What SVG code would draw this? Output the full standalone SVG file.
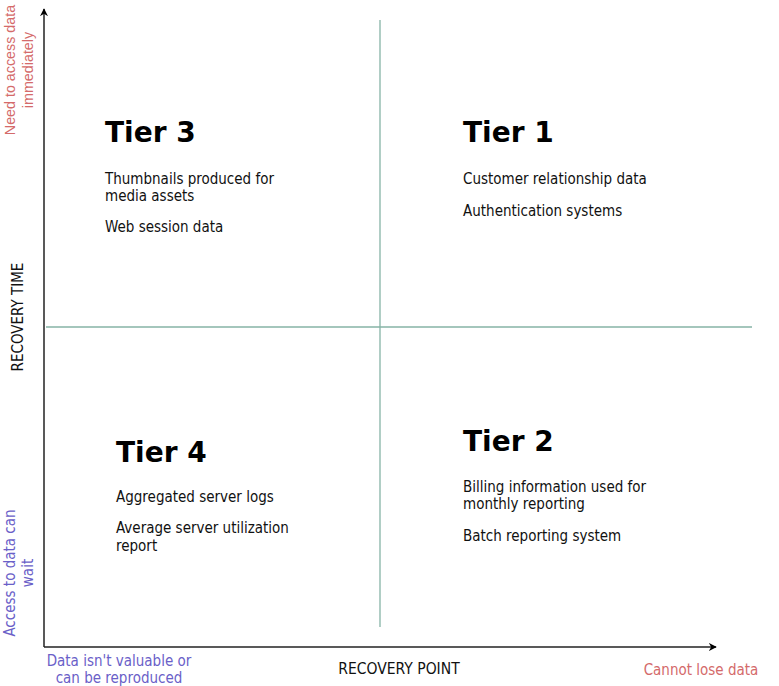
<svg xmlns="http://www.w3.org/2000/svg" width="779" height="686" viewBox="0 0 779 686">
<style>
.t{font-family:"DejaVu Sans Condensed","DejaVu Sans",sans-serif;font-size:15px;fill:#111}
.h{font-family:"DejaVu Sans","Liberation Sans",sans-serif;font-size:28px;font-weight:bold;fill:#000}
.ax{font-family:"DejaVu Sans Condensed","DejaVu Sans",sans-serif;font-size:15.5px;fill:#111}
.ay{font-family:"DejaVu Sans Condensed","DejaVu Sans",sans-serif;font-size:15px;fill:#111}
.red{font-family:"Liberation Sans",Arial,sans-serif;font-size:14.3px;fill:#d46a6a}
.redt{font-family:"DejaVu Sans Condensed","DejaVu Sans",sans-serif;font-size:15px;fill:#d46a6a}
.blue{font-family:"DejaVu Sans Condensed","DejaVu Sans",sans-serif;font-size:15px;fill:#6a60c8}
.grid{stroke:#86b3a6;stroke-width:1.3;fill:none}
.axis{stroke:#222;stroke-width:1.5;fill:none}
</style>
<defs>
<marker id="arr" viewBox="0 0 10 10" refX="9" refY="5" markerWidth="8" markerHeight="8" markerUnits="userSpaceOnUse" orient="auto">
<path d="M0,0 L10,5 L0,10 L3,5 Z" fill="#000"/>
</marker>
</defs>
<rect width="779" height="686" fill="#fff"/>
<g id="connectors">
<line class="grid" x1="380" y1="20" x2="380" y2="627"/>
<line class="grid" x1="46" y1="327" x2="752" y2="327"/>
<line class="axis" x1="44" y1="647" x2="44" y2="9" marker-end="url(#arr)"/>
<line class="axis" x1="44" y1="647" x2="716" y2="647" marker-end="url(#arr)"/>
</g>
<g id="tier3">
<text class="h" x="105" y="142">Tier 3</text>
<text class="t" x="105" y="184">Thumbnails produced for</text>
<text class="t" x="105" y="201">media assets</text>
<text class="t" x="105" y="232">Web session data</text>
</g>
<g id="tier1">
<text class="h" x="463" y="142">Tier 1</text>
<text class="t" x="463" y="184">Customer relationship data</text>
<text class="t" x="463" y="216">Authentication systems</text>
</g>
<g id="tier4">
<text class="h" x="116" y="462">Tier 4</text>
<text class="t" x="116" y="502">Aggregated server logs</text>
<text class="t" x="116" y="533">Average server utilization</text>
<text class="t" x="116" y="551">report</text>
</g>
<g id="tier2">
<text class="h" x="463" y="451">Tier 2</text>
<text class="t" x="463" y="492">Billing information used for</text>
<text class="t" x="463" y="509">monthly reporting</text>
<text class="t" x="463" y="541">Batch reporting system</text>
</g>
<g id="axis-labels">
<text class="ax" x="399" y="674" text-anchor="middle">RECOVERY POINT</text>
<text class="ay" transform="translate(23,317) rotate(-90)" text-anchor="middle">RECOVERY TIME</text>
<text class="red" transform="translate(15,70) rotate(-90)" text-anchor="middle">Need to access data</text>
<text class="red" transform="translate(33,70) rotate(-90)" text-anchor="middle">immediately</text>
<text class="blue" transform="translate(15,573) rotate(-90)" text-anchor="middle">Access to data can</text>
<text class="blue" transform="translate(33,573) rotate(-90)" text-anchor="middle">wait</text>
<text class="blue" x="119" y="666" text-anchor="middle">Data isn't valuable or</text>
<text class="blue" x="119" y="683" text-anchor="middle">can be reproduced</text>
<text class="redt" x="701" y="675" text-anchor="middle">Cannot lose data</text>
</g>
</svg>
